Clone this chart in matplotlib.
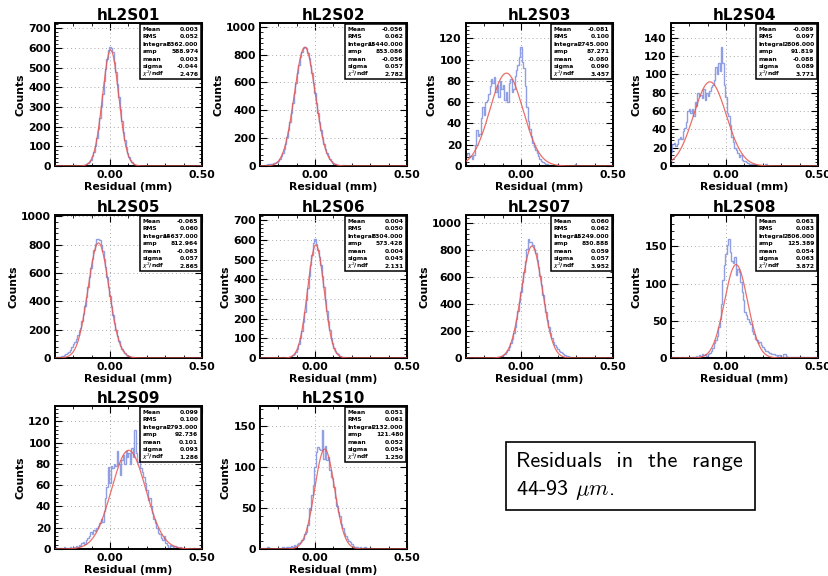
import numpy as np
import matplotlib
matplotlib.use("Agg")
import matplotlib.pyplot as plt
from matplotlib.patches import Rectangle
from matplotlib.ticker import AutoMinorLocator, MultipleLocator, FormatStrFormatter

# residual histograms, 100 bins from -0.3 to 0.5 mm
edges = np.linspace(-0.3, 0.5, 101)

names = ["hL2S01", "hL2S02", "hL2S03", "hL2S04", "hL2S05",
         "hL2S06", "hL2S07", "hL2S08", "hL2S09", "hL2S10"]

counts_s01 = [0, 0, 0, 0, 0, 0, 0, 0, 0, 0,
              0, 0, 3, 5, 2, 1, 1, 2, 2, 3,
              4, 8, 13, 20, 33, 49, 71, 102, 140, 188,
              244, 305, 368, 433, 492, 545, 590, 606, 600, 578,
              530, 478, 415, 352, 288, 228, 175, 130, 95, 66,
              45, 30, 19, 12, 7, 4, 2, 1, 1, 0,
              0, 0, 0, 0, 0, 1, 0, 0, 0, 0,
              0, 0, 1, 0, 0, 0, 0, 0, 0, 0,
              0, 0, 0, 0, 0, 0, 0, 0, 0, 0,
              0, 0, 0, 0, 0, 0, 0, 0, 0, 0]
counts_s02 = [0, 1, 3, 5, 8, 12, 15, 14, 16, 18,
              22, 28, 38, 50, 70, 95, 124, 161, 207, 259,
              318, 384, 454, 527, 598, 667, 728, 781, 820, 848,
              856, 845, 815, 775, 725, 665, 598, 527, 454, 384,
              318, 259, 207, 161, 124, 93, 69, 49, 35, 24,
              17, 11, 7, 5, 3, 2, 4, 9, 3, 1,
              0, 0, 1, 0, 0, 0, 0, 0, 0, 0,
              0, 0, 0, 0, 0, 0, 0, 0, 0, 0,
              0, 0, 0, 0, 0, 0, 0, 0, 0, 0,
              0, 0, 0, 0, 0, 0, 0, 0, 0, 0]
counts_s03 = [10, 12, 8, 9, 7, 10, 20, 34, 28, 30,
              45, 55, 48, 60, 62, 68, 75, 82, 78, 84,
              70, 76, 65, 80, 72, 76, 62, 70, 60, 78,
              82, 70, 72, 85, 90, 95, 102, 112, 98, 92,
              75, 55, 42, 35, 28, 22, 18, 15, 12, 9,
              7, 5, 4, 3, 2, 2, 1, 1, 0, 1,
              0, 0, 1, 0, 0, 0, 0, 0, 0, 0,
              0, 0, 0, 0, 2, 0, 0, 0, 0, 0,
              0, 0, 0, 0, 0, 0, 0, 0, 0, 0,
              0, 0, 0, 0, 0, 0, 0, 0, 0, 0]
counts_s04 = [15, 24, 25, 22, 24, 30, 32, 30, 38, 42,
              48, 60, 62, 58, 62, 55, 70, 66, 80, 76,
              78, 74, 84, 72, 80, 76, 82, 86, 88, 94,
              108, 100, 112, 104, 130, 112, 88, 75, 58, 55,
              45, 32, 26, 20, 18, 14, 10, 12, 7, 6,
              5, 4, 3, 2, 2, 1, 2, 0, 1, 0,
              1, 0, 0, 0, 2, 0, 0, 0, 0, 0,
              0, 0, 0, 0, 0, 0, 0, 0, 0, 0,
              0, 0, 0, 0, 0, 0, 0, 0, 0, 0,
              0, 0, 0, 0, 0, 0, 0, 0, 0, 0]
counts_s05 = [4, 5, 7, 9, 12, 16, 20, 26, 34, 44,
              58, 78, 100, 115, 135, 160, 190, 215, 260, 310,
              365, 430, 500, 570, 635, 700, 760, 805, 838, 842,
              835, 800, 755, 700, 640, 575, 505, 440, 370, 305,
              250, 200, 155, 118, 88, 64, 46, 33, 23, 16,
              11, 8, 5, 4, 3, 2, 1, 0, 1, 0,
              0, 0, 0, 0, 0, 0, 0, 0, 0, 0,
              0, 0, 0, 0, 0, 0, 0, 0, 0, 0,
              0, 0, 0, 0, 0, 0, 0, 0, 0, 0,
              0, 0, 0, 0, 0, 0, 0, 0, 0, 0]
counts_s06 = [0, 0, 0, 0, 0, 0, 0, 0, 0, 0,
              0, 0, 1, 2, 1, 3, 2, 1, 2, 2,
              4, 8, 13, 20, 32, 48, 70, 100, 137, 182,
              235, 293, 355, 416, 472, 525, 585, 605, 578, 550,
              515, 470, 418, 358, 296, 238, 186, 140, 104, 75,
              52, 38, 26, 18, 11, 7, 5, 3, 2, 1,
              1, 0, 2, 0, 0, 0, 0, 0, 0, 0,
              0, 0, 0, 0, 0, 0, 0, 0, 0, 0,
              0, 0, 0, 0, 0, 0, 0, 0, 0, 0,
              0, 0, 0, 0, 0, 0, 0, 0, 0, 0]
counts_s07 = [0, 0, 0, 0, 0, 0, 0, 0, 0, 0,
              0, 0, 1, 0, 1, 2, 1, 2, 3, 2,
              2, 4, 6, 9, 14, 21, 30, 42, 59, 81,
              108, 143, 184, 232, 288, 349, 416, 490, 565, 640,
              720, 810, 884, 860, 862, 840, 812, 778, 730, 672,
              606, 538, 470, 402, 338, 280, 228, 185, 148, 118,
              96, 78, 64, 52, 42, 34, 27, 21, 16, 12,
              9, 6, 4, 3, 2, 1, 1, 0, 1, 0,
              0, 0, 0, 0, 0, 0, 0, 0, 0, 0,
              0, 0, 0, 0, 0, 0, 0, 0, 0, 0]
counts_s08 = [0, 1, 0, 0, 1, 0, 0, 1, 0, 0,
              1, 0, 1, 0, 1, 2, 1, 3, 2, 4,
              3, 5, 4, 5, 3, 6, 7, 9, 14, 20,
              24, 30, 42, 52, 72, 105, 125, 140, 152, 160,
              142, 130, 128, 135, 112, 120, 115, 102, 88, 78,
              62, 58, 52, 48, 46, 36, 32, 26, 24, 20,
              22, 18, 15, 12, 10, 9, 8, 7, 6, 5,
              5, 4, 3, 4, 3, 2, 5, 6, 3, 2,
              1, 2, 1, 1, 2, 1, 1, 0, 1, 1,
              1, 0, 1, 1, 0, 1, 0, 1, 1, 0]
counts_s09 = [2, 1, 0, 1, 1, 0, 2, 1, 0, 1,
              2, 1, 2, 1, 3, 2, 4, 3, 6, 7,
              5, 8, 10, 12, 16, 14, 18, 17, 20, 22,
              24, 28, 25, 36, 48, 58, 77, 62, 78, 76,
              80, 78, 92, 80, 70, 84, 88, 80, 92, 86,
              90, 80, 95, 86, 112, 90, 82, 84, 76, 72,
              68, 62, 55, 46, 48, 40, 34, 28, 24, 20,
              15, 14, 10, 8, 12, 6, 4, 0, 4, 3,
              2, 3, 1, 2, 1, 2, 1, 0, 1, 0,
              0, 1, 0, 0, 1, 0, 0, 0, 1, 0]
counts_s10 = [0, 0, 1, 0, 1, 2, 1, 0, 0, 0,
              0, 0, 1, 0, 1, 2, 1, 1, 2, 3,
              2, 4, 3, 5, 4, 6, 7, 8, 11, 12,
              18, 21, 29, 50, 48, 66, 78, 100, 118, 124,
              122, 120, 145, 110, 125, 108, 112, 96, 88, 86,
              75, 62, 52, 45, 40, 30, 25, 20, 16, 12,
              10, 8, 6, 4, 3, 2, 3, 1, 2, 1,
              1, 2, 1, 0, 1, 1, 0, 0, 0, 0,
              0, 0, 0, 0, 0, 0, 0, 0, 0, 0,
              0, 0, 0, 0, 0, 0, 0, 0, 0, 0]

all_counts = [counts_s01, counts_s02, counts_s03, counts_s04, counts_s05,
              counts_s06, counts_s07, counts_s08, counts_s09, counts_s10]

# statistics box entries
hist_mean = ["0.003", "-0.056", "-0.081", "-0.089", "-0.065",
             "0.004", "0.060", "0.061", "0.099", "0.051"]
hist_rms = ["0.052", "0.062", "0.100", "0.097", "0.060",
            "0.050", "0.062", "0.083", "0.100", "0.061"]
integral = ["8362.000", "15440.000", "2745.000", "2806.000", "14637.000",
            "8304.000", "15249.000", "2806.000", "2793.000", "2132.000"]
fit_amp = [588.974, 853.086, 87.271, 91.819, 812.964,
           573.428, 830.888, 125.389, 92.736, 121.480]
fit_mean = [0.003, -0.056, -0.080, -0.088, -0.063,
            0.004, 0.059, 0.054, 0.101, 0.052]
fit_sigma = [-0.044, 0.057, 0.090, 0.089, 0.057,
             0.045, 0.057, 0.063, 0.093, 0.054]
chi2_ndf = ["2.476", "2.782", "3.457", "3.771", "2.865",
            "2.131", "3.952", "3.872", "1.286", "1.250"]
y_step = [100, 200, 20, 20, 200, 100, 200, 50, 20, 50]

W, H = 829, 576
fig = plt.figure(figsize=(W / 100, H / 100), dpi=100)

col_left = [55, 260, 466, 671]
row_bottom = [166, 358, 549]
ax_w, ax_h = 147, 143

xf = np.linspace(-0.3, 0.5, 400)

for i in range(10):
    r, c = divmod(i, 4)
    ax = fig.add_axes([col_left[c] / W, (H - row_bottom[r]) / H, ax_w / W, ax_h / H])
    counts = np.array(all_counts[i], dtype=float)

    ax.stairs(counts, edges, color="#7d8de0", lw=1.0, alpha=0.85, zorder=2)
    s = abs(fit_sigma[i])
    ax.plot(xf, fit_amp[i] * np.exp(-0.5 * ((xf - fit_mean[i]) / s) ** 2),
            color="#e8564e", lw=0.9, alpha=0.85, zorder=3)

    ax.set_xlim(-0.3, 0.5)
    ax.set_ylim(0, 1.2 * counts.max())
    ax.xaxis.set_major_locator(MultipleLocator(0.5))
    ax.xaxis.set_minor_locator(MultipleLocator(0.1))
    ax.xaxis.set_major_formatter(FormatStrFormatter("%.2f"))
    ax.yaxis.set_major_locator(MultipleLocator(y_step[i]))
    ax.yaxis.set_minor_locator(AutoMinorLocator(5))
    ax.tick_params(which="both", direction="in", top=True, right=True)
    ax.tick_params(which="major", length=5, width=0.8, labelsize=7.8, pad=3)
    ax.tick_params(which="minor", length=2.5, width=0.6)
    for lab in ax.get_xticklabels() + ax.get_yticklabels():
        lab.set_fontweight("bold")
    ax.grid(True, which="major", ls=(0, (1, 3)), color="#aaaaaa", lw=0.7)
    for sp in ax.spines.values():
        sp.set_linewidth(1.4)

    ax.set_title(names[i], fontsize=11, fontweight="bold", pad=2)
    ax.set_xlabel("Residual (mm)", fontsize=7.8, fontweight="bold", labelpad=1)
    ax.set_ylabel("Counts", fontsize=7.8, fontweight="bold", labelpad=2)

    # stats box
    bx0, by0 = 0.575, 0.605
    ax.add_patch(Rectangle((bx0, by0), 0.995 - bx0, 0.995 - by0, transform=ax.transAxes,
                           facecolor="white", edgecolor="black", lw=1.1, zorder=5))
    rows = [("Mean", hist_mean[i]), ("RMS", hist_rms[i]), ("Integral", integral[i]),
            ("amp", "%.3f" % fit_amp[i]), ("mean", "%.3f" % fit_mean[i]),
            ("sigma", "%.3f" % fit_sigma[i]), (r"$\chi^2$/ndf", chi2_ndf[i])]
    for k, (lab, val) in enumerate(rows):
        yy = 0.955 - k * 0.052
        ax.text(bx0 + 0.02, yy, lab, transform=ax.transAxes, fontsize=4.3,
                fontweight="bold", va="center", ha="left", zorder=6)
        ax.text(0.975, yy, val, transform=ax.transAxes, fontsize=4.3,
                fontweight="bold", va="center", ha="right", zorder=6)

# note box, lower right
fig.add_artist(Rectangle((506 / W, 1 - 510 / H), 249 / W, 68 / H, transform=fig.transFigure,
                         facecolor="white", edgecolor="black", lw=1.2))
fig.text(516 / W, 1 - 467 / H, "Residuals  in  the  range", fontsize=16,
         family="cmss10", ha="left", va="baseline")
fig.text(516 / W, 1 - 495 / H, r"44-93 $\mu m$.", fontsize=16,
         family="cmss10", math_fontfamily="cm", ha="left", va="baseline")

fig.savefig("out.png", dpi=100)
